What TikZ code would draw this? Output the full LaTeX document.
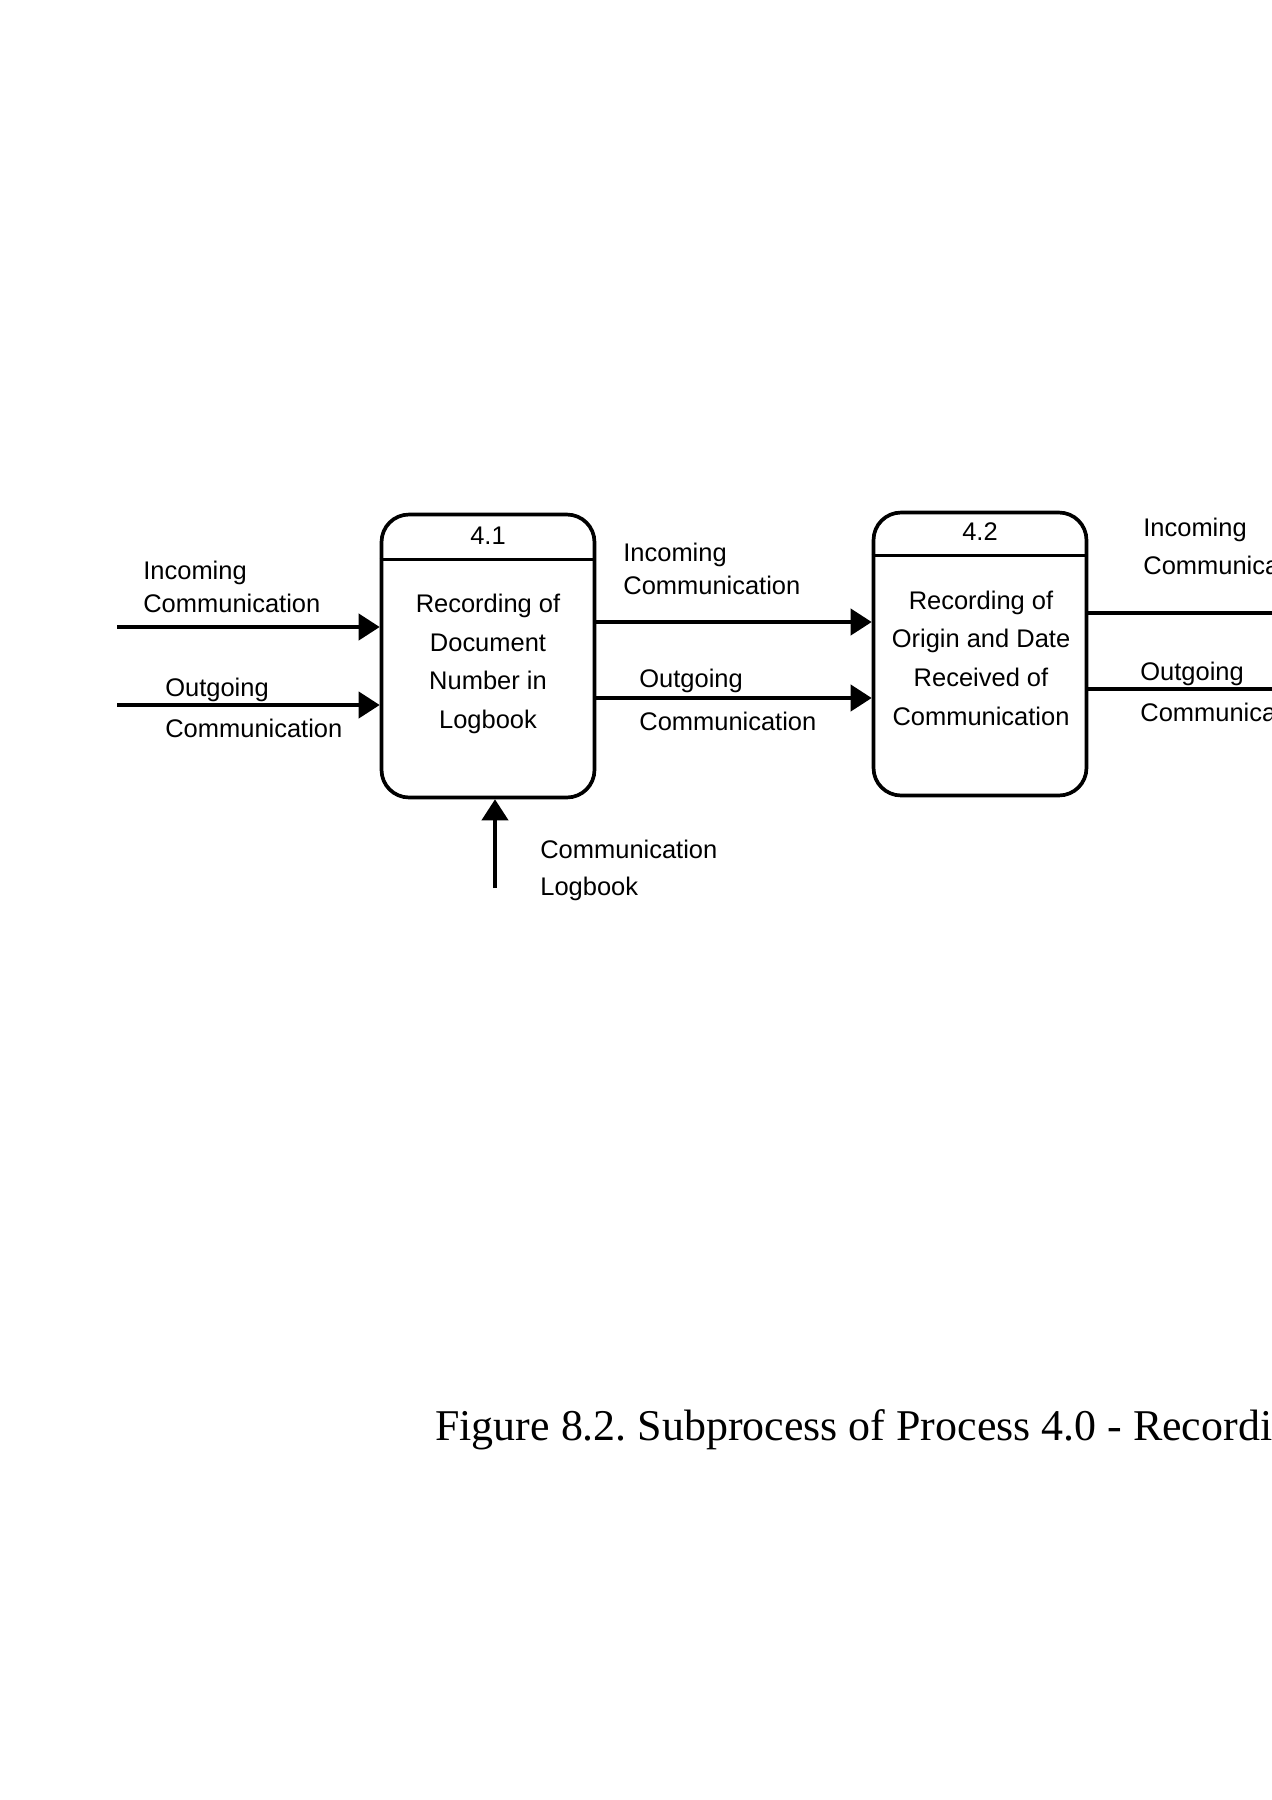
\documentclass[tikz,border=0pt]{standalone}
\usepackage{fontspec}
\setmainfont{Liberation Serif}
\setsansfont{Liberation Sans}
\usetikzlibrary{calc}
\usetikzlibrary{arrows.meta}

\tikzset{
 proc/.style={draw,line width=2.1pt,rounded corners=0.55cm,minimum width=4.26cm,minimum height=5.66cm,inner sep=0pt},
 flow/.style={line width=1.9pt,-{Triangle[length=12pt,width=15pt]}},
 lbl/.style={font=\sffamily\fontsize{14.5}{19}\selectfont,align=left,inner sep=0pt,anchor=west},
 ptxt/.style={font=\sffamily\fontsize{14.5}{22}\selectfont,align=center,inner sep=0pt}
}

\begin{document}
\begin{tikzpicture}[x=0.02cm,y=-0.02cm]
\useasboundingbox (0,0) rectangle (1272,1800);
\fill[white] (0,0) rectangle (1272,1800);
% process boxes
\node[proc] (p41) at (488,656) {};
\node[proc] (p42) at (980,654) {};
\draw[line width=1.9pt] ($(p41.north west)+(0,47)$) -- ($(p41.north east)+(0,47)$);
\draw[line width=1.9pt] ($(p42.north west)+(0,45)$) -- ($(p42.north east)+(0,45)$);
\node[ptxt] (n41) at ($(p41.north)+(0,23)$) {4.1};
\node[ptxt] (n42) at ($(p42.north)+(0,21)$) {4.2};
\node[ptxt] (t41) at (488,664) {Recording of\\Document\\Number in\\Logbook};
\node[ptxt] (t42) at (981,658) {Recording of\\Origin and Date\\Received of\\Communication};
% flow ends
\coordinate (inA) at (117,627);
\coordinate (outA) at (117,705);
\coordinate (midA) at (0,622);
\coordinate (midB) at (0,698);
\coordinate (rgtA) at (1290,613);
\coordinate (rgtB) at (1290,689);
\coordinate (logA) at (495,888);
\draw[flow] (inA) -- (inA -| p41.west);
\draw[flow] (outA) -- (outA -| p41.west);
\draw[flow] (p41.east |- midA) -- (p42.west |- midA);
\draw[flow] (p41.east |- midB) -- (p42.west |- midB);
\draw[line width=1.9pt] (p42.east |- rgtA) -- (rgtA);
\draw[line width=1.9pt] (p42.east |- rgtB) -- (rgtB);
\draw[flow] (logA) -- (logA |- p41.south);
% flow labels
\node[lbl] (inL) at (143,587) {Incoming\\Communication};
\node[lbl] (outL) at (165,690) {Outgoing};
\node[lbl] (outLb) at (165,728) {Communication};
\node[lbl] (inM) at (623,569) {Incoming\\Communication};
\node[lbl] (outM) at (639,681) {Outgoing};
\node[lbl] (outMb) at (639,721) {Communication};
\node[lbl,font=\sffamily\fontsize{14.5}{21.5}\selectfont] (inR) at (1143,546) {Incoming\\Communication};
\node[lbl] (outR) at (1140,674) {Outgoing};
\node[lbl] (outRb) at (1140,712) {Communication};
\node[lbl,font=\sffamily\fontsize{14.5}{21}\selectfont] (logL) at (540,870) {Communication\\Logbook};
% caption
\node[font=\fontsize{25}{30}\selectfont,anchor=base west,inner sep=0pt] (cap) at (435,1440) {\frenchspacing Figure 8.2. Subprocess of Process 4.0 - Recording};
\end{tikzpicture}
\end{document}
